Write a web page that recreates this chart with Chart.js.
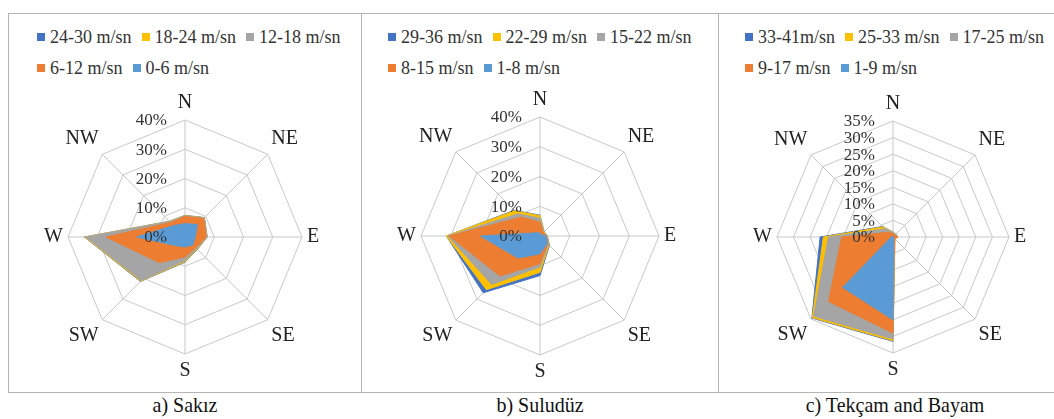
<!DOCTYPE html>
<html>
<head>
<meta charset="utf-8">
<script src="https://cdn.jsdelivr.net/npm/chart.js@4.4.1/dist/chart.umd.min.js"></script>
<style>
  body { margin: 0; background: #fff; overflow: hidden; font-family: "Liberation Serif", "Times New Roman", serif; }
  #wrap { position: relative; width: 1054px; height: 419px; overflow: hidden; }
  .panel { position: absolute; top: 13px; height: 380px; border: 1px solid #b5b5b5; box-sizing: border-box; }
  #wrap canvas { position: absolute; }
  .legend { position: absolute; top: 28px; font-size: 18px; color: #333; }
  .row { display: flex; height: 18px; line-height: 18px; white-space: nowrap; }
  .row + .row { margin-top: 13px; }
  .item { display: flex; align-items: center; margin-right: 10px; }
  .box { width: 8px; height: 8px; margin-right: 5px; }
  .cap { position: absolute; top: 391px; font-size: 20px; line-height: 26px; color: #111; transform: translateX(-50%) scaleY(1.1); white-space: nowrap; }
</style>
</head>
<body>
<div id="wrap">
  <div class="panel" style="left:8px;width:354px"></div>
  <div class="panel" style="left:361px;width:358px"></div>
  <div class="panel" style="left:718px;width:345px"></div>

  <div class="legend" id="leg1" style="left:37px"></div>
  <div class="legend" id="leg2" style="left:388px"></div>
  <div class="legend" id="leg3" style="left:745px"></div>

  <canvas id="rose1" width="340" height="292" style="left:15px;top:91px"></canvas>
  <canvas id="rose2" width="344" height="296" style="left:368px;top:88px"></canvas>
  <canvas id="rose3" width="338" height="290" style="left:724px;top:92px"></canvas>

  <div class="cap" style="left:185px">a) Sakız</div>
  <div class="cap" style="left:540px">b) Suludüz</div>
  <div class="cap" style="left:895px">c) Tekçam and Bayam</div>
</div>

<script>
// directions, clockwise from north
const directions = ['N', 'NE', 'E', 'SE', 'S', 'SW', 'W', 'NW'];
const seriesColors = ['#4472C4', '#FFC000', '#A5A5A5', '#ED7D31', '#5B9BD5'];

// a) Sakiz - cumulative frequency (%)
const sakizClasses = ['24-30 m/sn', '18-24 m/sn', '12-18 m/sn', '6-12 m/sn', '0-6 m/sn'];
const sakiz24 = [7.4, 9.4, 7.6, 6.0, 8.6, 21.5, 34.4, 7.6];
const sakiz18 = [7.3, 9.3, 7.5, 5.9, 8.4, 21.3, 34.3, 7.5];
const sakiz12 = [7.2, 9.2, 7.4, 5.7, 8.0, 21.0, 34.0, 7.4];
const sakiz6 = [7.0, 9.0, 7.2, 5.2, 6.8, 12.4, 27.0, 7.0];
const sakiz0 = [4.6, 6.0, 3.5, 3.8, 3.4, 4.2, 16.5, 5.5];

// b) Suludüz
const suluClasses = ['29-36 m/sn', '22-29 m/sn', '15-22 m/sn', '8-15 m/sn', '1-8 m/sn'];
const sulu29 = [7.0, 2.0, 2.5, 4.5, 13.3, 27.0, 31.5, 12.2];
const sulu22 = [6.8, 1.9, 2.4, 4.3, 12.2, 25.5, 31.5, 12.0];
const sulu15 = [6.0, 1.7, 2.3, 4.0, 10.4, 23.0, 31.0, 10.5];
const sulu8 = [4.6, 1.5, 2.2, 3.7, 9.3, 19.0, 30.5, 9.0];
const sulu1 = [1.0, 0.5, 2.0, 3.5, 6.0, 10.5, 20.0, 1.5];

// c) Tekçam and Bayam
const tekClasses = ['33-41m/sn', '25-33 m/sn', '17-25 m/sn', '9-17 m/sn', '1-9 m/sn'];
const tek33 = [1.5, 1.2, 1.5, 0.8, 31.5, 34.6, 22.0, 4.5];
const tek25 = [1.4, 1.1, 1.5, 0.8, 31.3, 34.4, 21.0, 4.3];
const tek17 = [1.3, 1.0, 1.4, 0.7, 30.8, 33.8, 19.5, 3.5];
const tek9 = [1.0, 0.8, 1.5, 0.6, 29.0, 27.5, 15.5, 2.0];
const tek1 = [0.3, 0.2, 0.3, 0.2, 25.0, 21.5, 0.5, 0.3];

const axisTicks40 = [0, 10, 20, 30, 40];
const axisTicks35 = [0, 5, 10, 15, 20, 25, 30, 35];

// percent labels left of the north axis, like excel (incl. 0%)
const tickLabels = {
  id: 'tickLabels',
  afterDatasetsDraw(chart) {
    const r = chart.scales.r;
    const ctx = chart.ctx;
    ctx.save();
    ctx.font = '17px "Liberation Serif"';
    ctx.fillStyle = '#333';
    ctx.textAlign = 'right';
    ctx.textBaseline = 'middle';
    r.ticks.forEach(t => {
      const d = r.getDistanceFromCenterForValue(t.value);
      ctx.fillText(t.label, r.xCenter - 18, r.yCenter - d + 1);
    });
    ctx.restore();
  }
};

function makeRose(id, legendId, classes, series, ticks) {
  const chart = new Chart(document.getElementById(id), {
    type: 'radar',
    data: {
      labels: directions,
      datasets: classes.map((c, i) => ({
        label: c,
        data: series[i],
        backgroundColor: seriesColors[i],
        borderColor: seriesColors[i],
        borderWidth: 1,
        pointRadius: 0,
        fill: true,
        order: classes.length - i
      }))
    },
    options: {
      responsive: false,
      animation: false,
      plugins: {
        legend: { display: false },
        tooltip: { enabled: false }
      },
      scales: {
        r: {
          min: ticks[0],
          max: ticks[ticks.length - 1],
          ticks: {
            stepSize: ticks[1] - ticks[0],
            display: false,
            callback: v => v + '%'
          },
          grid: { color: '#c8c8c8', lineWidth: 1 },
          angleLines: { color: '#c8c8c8', lineWidth: 1 },
          pointLabels: {
            font: { family: '"Liberation Serif"', size: 20 },
            color: '#222',
            padding: 5
          }
        }
      }
    },
    plugins: [tickLabels]
  });

  // html legend, 3 items on first row, 2 on second
  const leg = document.getElementById(legendId);
  const ds = chart.data.datasets;
  [ds.slice(0, 3), ds.slice(3)].forEach(group => {
    const row = document.createElement('div');
    row.className = 'row';
    group.forEach(d => {
      const item = document.createElement('div');
      item.className = 'item';
      item.innerHTML = '<span class="box" style="background:' + d.backgroundColor + '"></span>' + d.label;
      row.appendChild(item);
    });
    leg.appendChild(row);
  });
  return chart;
}

makeRose('rose1', 'leg1', sakizClasses, [sakiz24, sakiz18, sakiz12, sakiz6, sakiz0], axisTicks40);
makeRose('rose2', 'leg2', suluClasses, [sulu29, sulu22, sulu15, sulu8, sulu1], axisTicks40);
makeRose('rose3', 'leg3', tekClasses, [tek33, tek25, tek17, tek9, tek1], axisTicks35);
</script>
</body>
</html>
